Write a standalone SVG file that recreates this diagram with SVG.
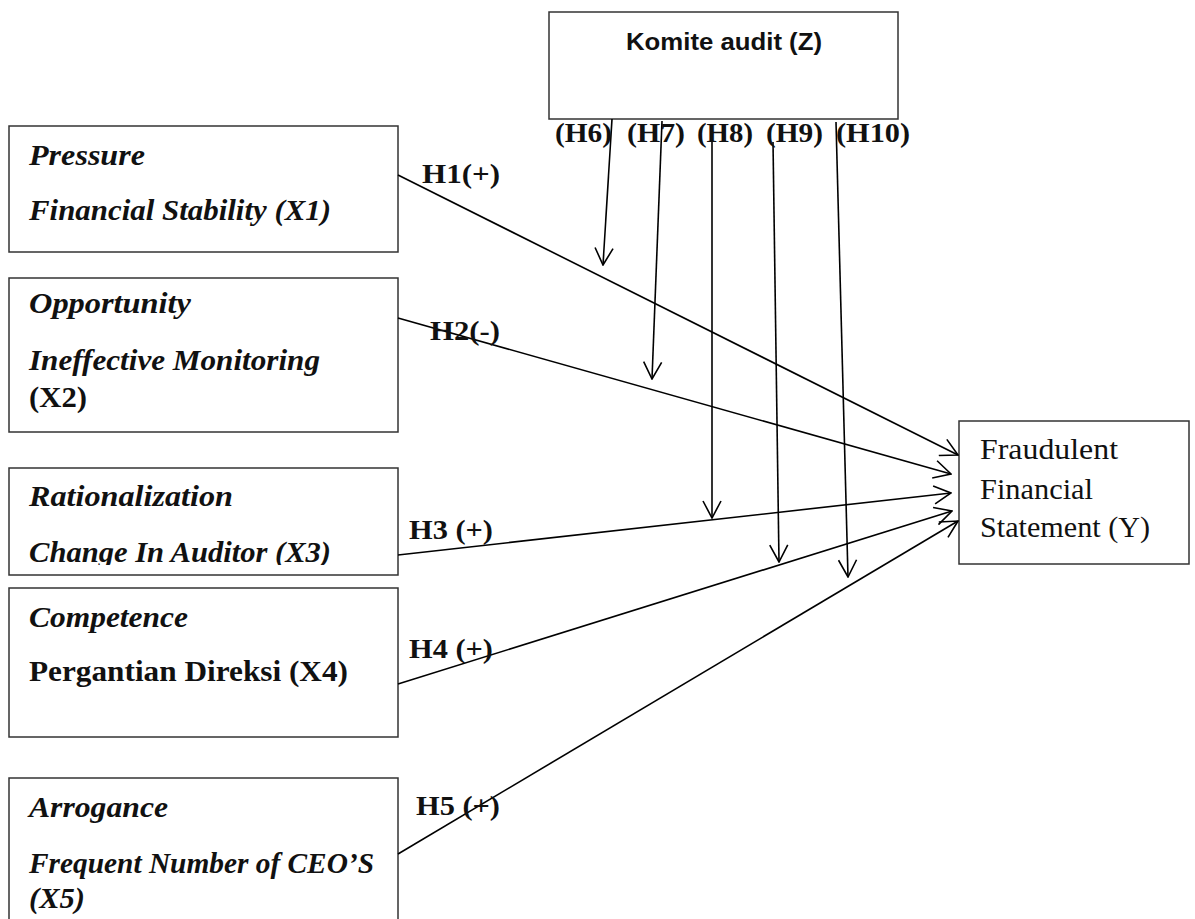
<svg xmlns="http://www.w3.org/2000/svg" width="1195" height="919" viewBox="0 0 1195 919">
<style>
.box{fill:#fff;stroke:#333;stroke-width:1.5}
.bi{font-family:"Liberation Serif",serif;font-weight:bold;font-style:italic;font-size:29px;fill:#111}
.b{font-family:"Liberation Serif",serif;font-weight:bold;font-size:29px;fill:#111}
.r{font-family:"Liberation Serif",serif;font-size:29px;fill:#111}
.lbl{font-family:"Liberation Serif",serif;font-weight:bold;font-size:28px;fill:#111}
.sans{font-family:"Liberation Sans",sans-serif;font-weight:bold;font-size:24px;fill:#111}
.conn line{stroke:#000;stroke-width:1.6;fill:none;marker-end:url(#open)}
</style>
<defs>
<marker id="open" viewBox="0 0 20 20" refX="19" refY="10" markerWidth="20" markerHeight="20" markerUnits="userSpaceOnUse" orient="auto">
<path d="M2,1 L19,10 L2,19" fill="none" stroke="#000" stroke-width="1.6"/>
</marker>
<clipPath id="clip3"><rect x="9" y="468" width="389" height="97"/></clipPath>
</defs>
<rect width="1195" height="919" fill="#fff"/>

<g id="komite">
<rect class="box" x="549" y="12" width="349" height="107"/>
<text class="sans" x="626" y="50" textLength="196" lengthAdjust="spacingAndGlyphs">Komite audit (Z)</text>
</g>

<g id="x1">
<rect class="box" x="9" y="126" width="389" height="126"/>
<text class="bi" x="29" y="165" textLength="116" lengthAdjust="spacingAndGlyphs">Pressure</text>
<text class="bi" x="29" y="220" textLength="302" lengthAdjust="spacingAndGlyphs">Financial Stability (X1)</text>
</g>

<g id="x2">
<rect class="box" x="9" y="278" width="389" height="154"/>
<text class="bi" x="29" y="313" textLength="162" lengthAdjust="spacingAndGlyphs">Opportunity</text>
<text class="bi" x="29" y="370" textLength="291" lengthAdjust="spacingAndGlyphs">Ineffective Monitoring</text>
<text class="b" x="29" y="407" textLength="58" lengthAdjust="spacingAndGlyphs">(X2)</text>
</g>

<g id="x3">
<rect class="box" x="9" y="468" width="389" height="107"/>
<text class="bi" x="29" y="506" textLength="204" lengthAdjust="spacingAndGlyphs">Rationalization</text>
<text class="bi" x="29" y="562" clip-path="url(#clip3)" textLength="302" lengthAdjust="spacingAndGlyphs">Change In Auditor (X3)</text>
</g>

<g id="x4">
<rect class="box" x="9" y="588" width="389" height="149"/>
<text class="bi" x="29" y="627" textLength="159" lengthAdjust="spacingAndGlyphs">Competence</text>
<text class="b" x="29" y="681" textLength="319" lengthAdjust="spacingAndGlyphs">Pergantian Direksi (X4)</text>
</g>

<g id="x5">
<rect class="box" x="9" y="778" width="389" height="150"/>
<text class="bi" x="29" y="817" textLength="139" lengthAdjust="spacingAndGlyphs">Arrogance</text>
<text class="bi" x="29" y="873" textLength="345" lengthAdjust="spacingAndGlyphs">Frequent Number of CEO’S</text>
<text class="bi" x="29" y="908" textLength="56" lengthAdjust="spacingAndGlyphs">(X5)</text>
</g>

<g id="y">
<rect class="box" x="959" y="421" width="230" height="143"/>
<text class="r" x="980" y="459" textLength="138" lengthAdjust="spacingAndGlyphs">Fraudulent</text>
<text class="r" x="980" y="499" textLength="113" lengthAdjust="spacingAndGlyphs">Financial</text>
<text class="r" x="980" y="537" textLength="170" lengthAdjust="spacingAndGlyphs">Statement (Y)</text>
</g>

<g id="connectors" class="conn">
<line x1="398" y1="175" x2="958" y2="455"/>
<line x1="398" y1="318" x2="951" y2="474"/>
<line x1="398" y1="555" x2="951" y2="493"/>
<line x1="398" y1="684" x2="952" y2="511"/>
<line x1="398" y1="854" x2="958" y2="521"/>
<line x1="612" y1="119" x2="603" y2="265"/>
<line x1="662" y1="121" x2="652" y2="379"/>
<line x1="712" y1="140" x2="712" y2="518"/>
<line x1="773" y1="142" x2="779" y2="562"/>
<line x1="836" y1="122" x2="848" y2="577"/>
</g>

<g id="labels">
<text class="lbl" x="422" y="183" textLength="78" lengthAdjust="spacingAndGlyphs">H1(+)</text>
<text class="lbl" x="430" y="340" textLength="70" lengthAdjust="spacingAndGlyphs">H2(-)</text>
<text class="lbl" x="409" y="539" textLength="84" lengthAdjust="spacingAndGlyphs">H3 (+)</text>
<text class="lbl" x="409" y="658" textLength="84" lengthAdjust="spacingAndGlyphs">H4 (+)</text>
<text class="lbl" x="416" y="815" textLength="84" lengthAdjust="spacingAndGlyphs">H5 (+)</text>
<text class="lbl" x="555" y="142" textLength="57" lengthAdjust="spacingAndGlyphs">(H6)</text>
<text class="lbl" x="627" y="142" textLength="58" lengthAdjust="spacingAndGlyphs">(H7)</text>
<text class="lbl" x="697" y="142" textLength="56" lengthAdjust="spacingAndGlyphs">(H8)</text>
<text class="lbl" x="766" y="142" textLength="57" lengthAdjust="spacingAndGlyphs">(H9)</text>
<text class="lbl" x="836" y="142" textLength="74" lengthAdjust="spacingAndGlyphs">(H10)</text>
</g>
</svg>
